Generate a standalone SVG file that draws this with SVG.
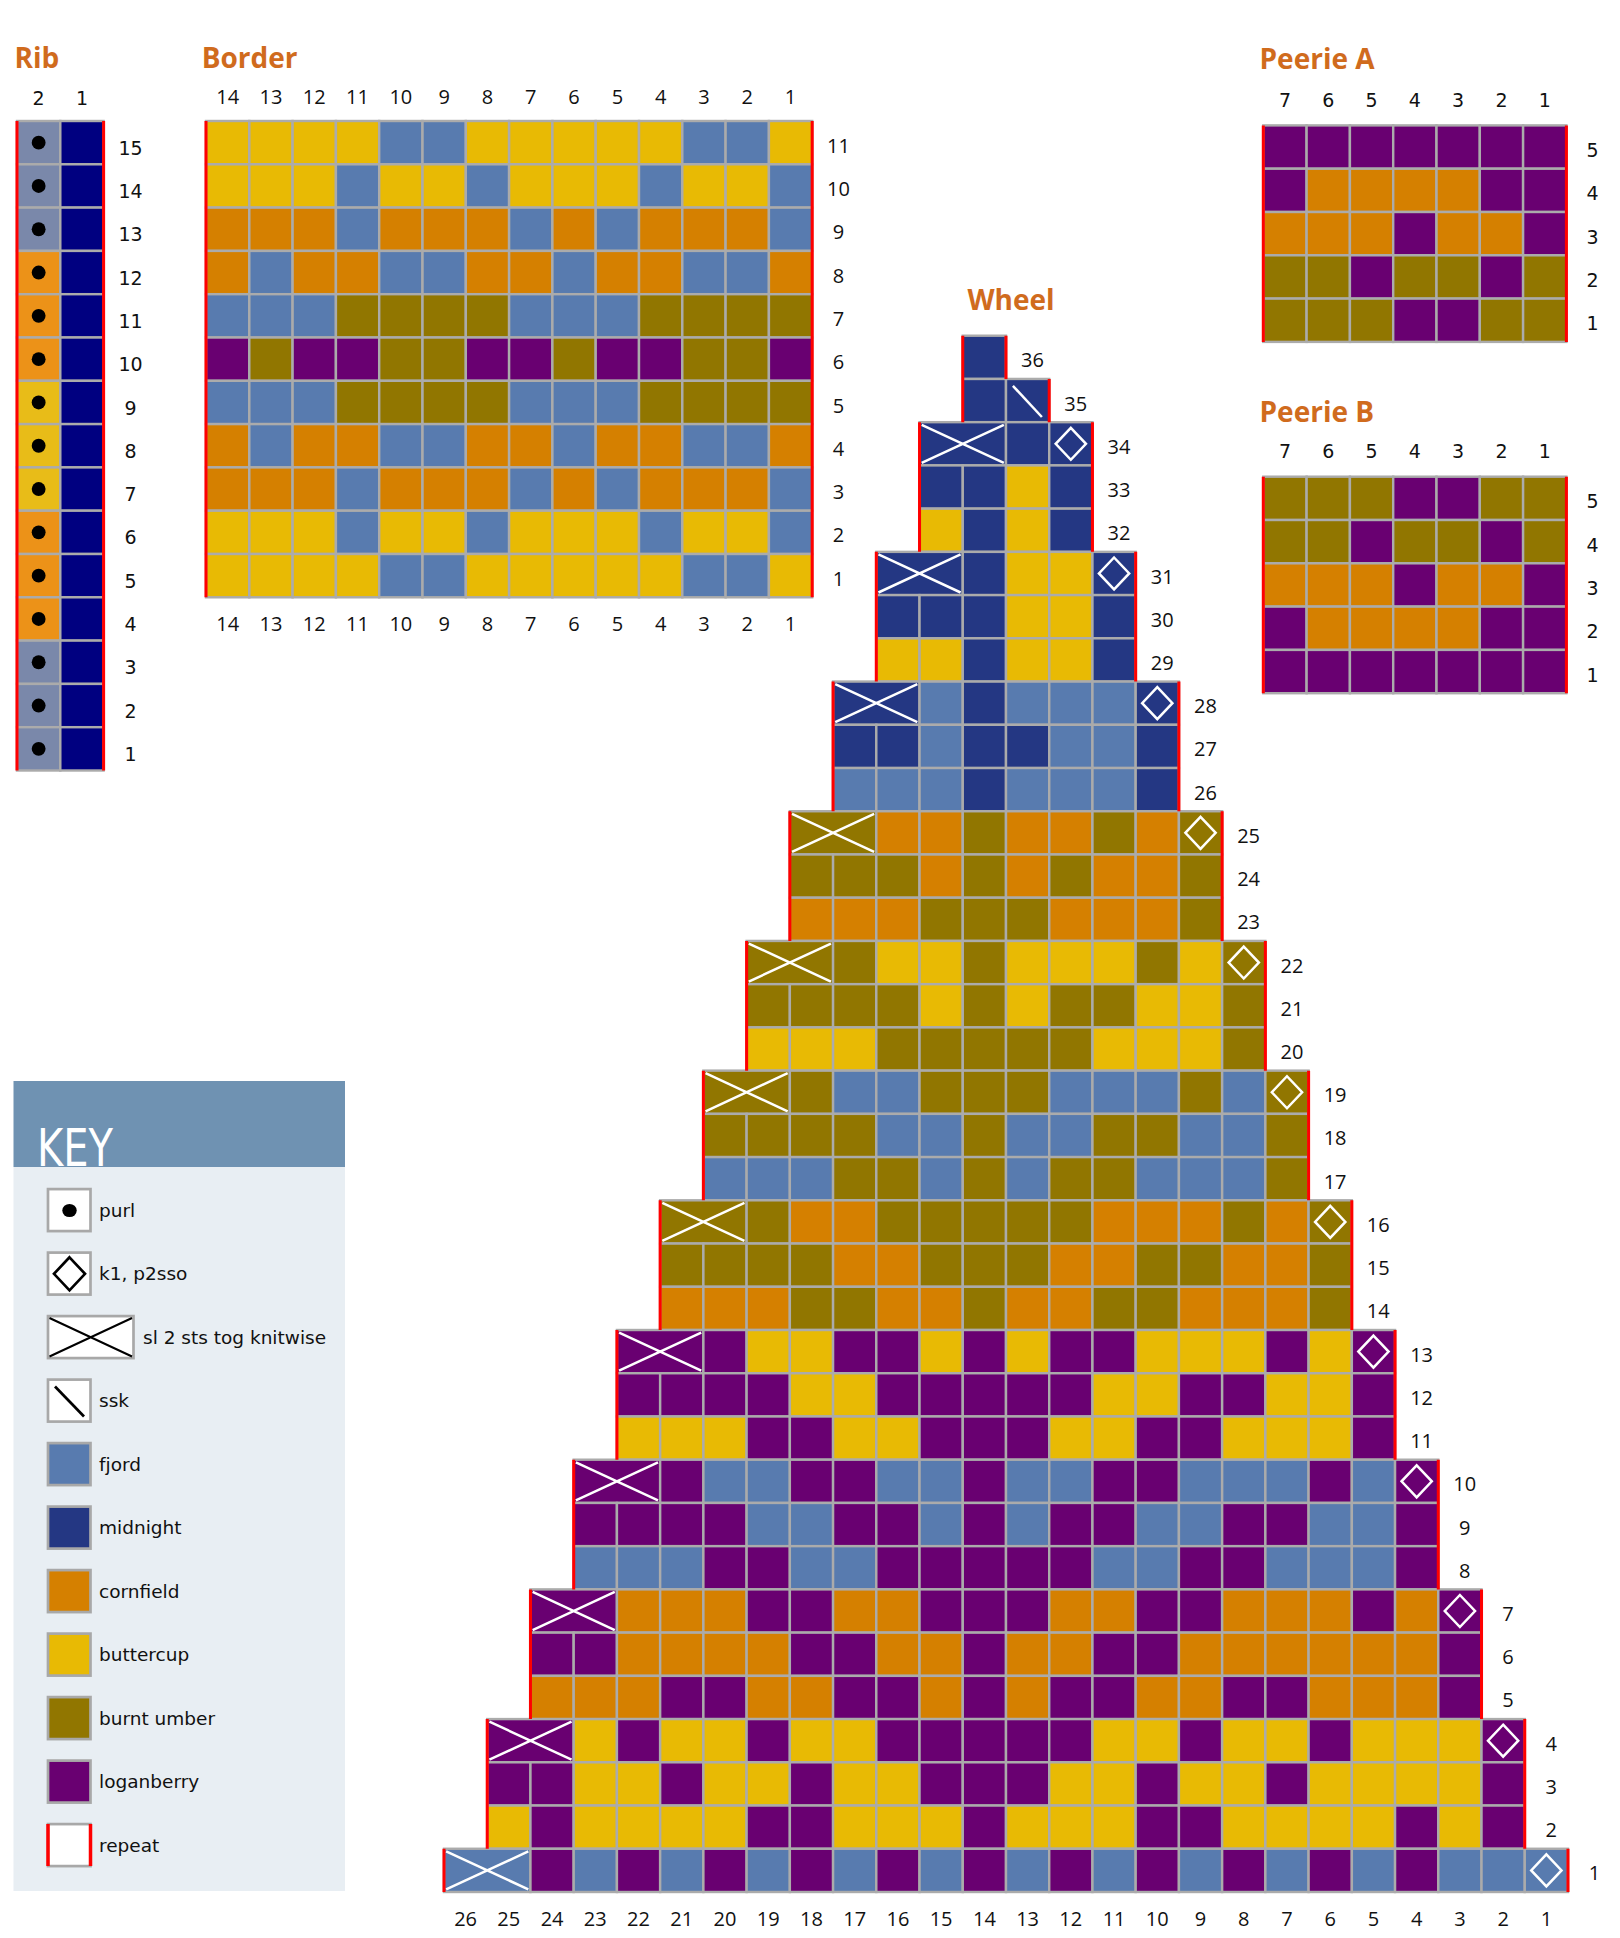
<svg xmlns="http://www.w3.org/2000/svg" width="1620" height="1938" viewBox="0 0 1620 1938">
<style>
.t{font-family:"Open Sans","DejaVu Sans",sans-serif;font-weight:700;font-size:28px;fill:#D06B1D}
.n{font-family:"DejaVu Sans",sans-serif;font-size:19px;fill:#111;text-anchor:middle}
.o{font-family:"Open Sans","DejaVu Sans",sans-serif;font-size:20px;fill:#111;text-anchor:middle}
.k{font-family:"DejaVu Sans",sans-serif;font-size:18.5px;fill:#111}
.g rect{width:1px;height:1px;stroke:#ABABAB;stroke-width:.056}
.g rect.d{width:2px}
.F{fill:#587BAF}.M{fill:#243783}.C{fill:#D58000}.Y{fill:#E8BA04}.U{fill:#917600}.L{fill:#690071}
.G{fill:#7A88AA}.O{fill:#EC9218}.R{fill:#E8BC18}.N{fill:#000080}
.rp{stroke:#FF0000;stroke-width:.07;fill:none}
.s{stroke:#FFFFFF;stroke-width:.058;fill:none}
.kb{stroke:#A8A8A8;stroke-width:2.7}
</style>

<g id="rib">
<text class="t" x="14.5" y="68">Rib</text>
<text class="n" x="38.65" y="105">2</text><text class="n" x="81.95" y="105">1</text>
<g class="g" transform="translate(17 121) scale(43.3)">
<rect class="G" x="0" y="0"/><rect class="G" x="0" y="1"/><rect class="G" x="0" y="2"/>
<rect class="O" x="0" y="3"/><rect class="O" x="0" y="4"/><rect class="O" x="0" y="5"/>
<rect class="R" x="0" y="6"/><rect class="R" x="0" y="7"/><rect class="R" x="0" y="8"/>
<rect class="O" x="0" y="9"/><rect class="O" x="0" y="10"/><rect class="O" x="0" y="11"/>
<rect class="G" x="0" y="12"/><rect class="G" x="0" y="13"/><rect class="G" x="0" y="14"/>
<rect class="N" x="1" y="0"/><rect class="N" x="1" y="1"/><rect class="N" x="1" y="2"/><rect class="N" x="1" y="3"/><rect class="N" x="1" y="4"/><rect class="N" x="1" y="5"/><rect class="N" x="1" y="6"/><rect class="N" x="1" y="7"/><rect class="N" x="1" y="8"/><rect class="N" x="1" y="9"/><rect class="N" x="1" y="10"/><rect class="N" x="1" y="11"/><rect class="N" x="1" y="12"/><rect class="N" x="1" y="13"/><rect class="N" x="1" y="14"/>
<g fill="#000">
<circle cx=".5" cy=".5" r=".16"/><circle cx=".5" cy="1.5" r=".16"/><circle cx=".5" cy="2.5" r=".16"/><circle cx=".5" cy="3.5" r=".16"/><circle cx=".5" cy="4.5" r=".16"/><circle cx=".5" cy="5.5" r=".16"/><circle cx=".5" cy="6.5" r=".16"/><circle cx=".5" cy="7.5" r=".16"/><circle cx=".5" cy="8.5" r=".16"/><circle cx=".5" cy="9.5" r=".16"/><circle cx=".5" cy="10.5" r=".16"/><circle cx=".5" cy="11.5" r=".16"/><circle cx=".5" cy="12.5" r=".16"/><circle cx=".5" cy="13.5" r=".16"/><circle cx=".5" cy="14.5" r=".16"/>
</g>
<path class="rp" d="M0 0V15M2 0V15"/>
</g>
<text class="n" x="130.5" y="154.7">15</text><text class="n" x="130.5" y="198">14</text><text class="n" x="130.5" y="241.3">13</text><text class="n" x="130.5" y="284.6">12</text><text class="n" x="130.5" y="327.9">11</text><text class="n" x="130.5" y="371.2">10</text><text class="n" x="130.5" y="414.5">9</text><text class="n" x="130.5" y="457.8">8</text><text class="n" x="130.5" y="501.1">7</text><text class="n" x="130.5" y="544.4">6</text><text class="n" x="130.5" y="587.7">5</text><text class="n" x="130.5" y="631">4</text><text class="n" x="130.5" y="674.3">3</text><text class="n" x="130.5" y="717.6">2</text><text class="n" x="130.5" y="760.9">1</text>
</g>

<g id="border">
<text class="t" x="201.7" y="68">Border</text>
<g class="o">
<text x="227.65" y="104">14</text><text x="270.95" y="104">13</text><text x="314.25" y="104">12</text><text x="357.55" y="104">11</text><text x="400.85" y="104">10</text><text x="444.15" y="104">9</text><text x="487.45" y="104">8</text><text x="530.75" y="104">7</text><text x="574.05" y="104">6</text><text x="617.35" y="104">5</text><text x="660.65" y="104">4</text><text x="703.95" y="104">3</text><text x="747.25" y="104">2</text><text x="790.55" y="104">1</text>
<text x="227.65" y="631">14</text><text x="270.95" y="631">13</text><text x="314.25" y="631">12</text><text x="357.55" y="631">11</text><text x="400.85" y="631">10</text><text x="444.15" y="631">9</text><text x="487.45" y="631">8</text><text x="530.75" y="631">7</text><text x="574.05" y="631">6</text><text x="617.35" y="631">5</text><text x="660.65" y="631">4</text><text x="703.95" y="631">3</text><text x="747.25" y="631">2</text><text x="790.55" y="631">1</text>
<text x="838.5" y="152.7">11</text><text x="838.5" y="196">10</text><text x="838.5" y="239.3">9</text><text x="838.5" y="282.6">8</text><text x="838.5" y="325.9">7</text><text x="838.5" y="369.2">6</text><text x="838.5" y="412.5">5</text><text x="838.5" y="455.8">4</text><text x="838.5" y="499.1">3</text><text x="838.5" y="542.4">2</text><text x="838.5" y="585.7">1</text>
</g>
<g class="g" transform="translate(206 121) scale(43.3)">
<rect class="Y" x="0" y="0"/><rect class="Y" x="1" y="0"/><rect class="Y" x="2" y="0"/><rect class="Y" x="3" y="0"/><rect class="F" x="4" y="0"/><rect class="F" x="5" y="0"/><rect class="Y" x="6" y="0"/><rect class="Y" x="7" y="0"/><rect class="Y" x="8" y="0"/><rect class="Y" x="9" y="0"/><rect class="Y" x="10" y="0"/><rect class="F" x="11" y="0"/><rect class="F" x="12" y="0"/><rect class="Y" x="13" y="0"/>
<rect class="Y" x="0" y="1"/><rect class="Y" x="1" y="1"/><rect class="Y" x="2" y="1"/><rect class="F" x="3" y="1"/><rect class="Y" x="4" y="1"/><rect class="Y" x="5" y="1"/><rect class="F" x="6" y="1"/><rect class="Y" x="7" y="1"/><rect class="Y" x="8" y="1"/><rect class="Y" x="9" y="1"/><rect class="F" x="10" y="1"/><rect class="Y" x="11" y="1"/><rect class="Y" x="12" y="1"/><rect class="F" x="13" y="1"/>
<rect class="C" x="0" y="2"/><rect class="C" x="1" y="2"/><rect class="C" x="2" y="2"/><rect class="F" x="3" y="2"/><rect class="C" x="4" y="2"/><rect class="C" x="5" y="2"/><rect class="C" x="6" y="2"/><rect class="F" x="7" y="2"/><rect class="C" x="8" y="2"/><rect class="F" x="9" y="2"/><rect class="C" x="10" y="2"/><rect class="C" x="11" y="2"/><rect class="C" x="12" y="2"/><rect class="F" x="13" y="2"/>
<rect class="C" x="0" y="3"/><rect class="F" x="1" y="3"/><rect class="C" x="2" y="3"/><rect class="C" x="3" y="3"/><rect class="F" x="4" y="3"/><rect class="F" x="5" y="3"/><rect class="C" x="6" y="3"/><rect class="C" x="7" y="3"/><rect class="F" x="8" y="3"/><rect class="C" x="9" y="3"/><rect class="C" x="10" y="3"/><rect class="F" x="11" y="3"/><rect class="F" x="12" y="3"/><rect class="C" x="13" y="3"/>
<rect class="F" x="0" y="4"/><rect class="F" x="1" y="4"/><rect class="F" x="2" y="4"/><rect class="U" x="3" y="4"/><rect class="U" x="4" y="4"/><rect class="U" x="5" y="4"/><rect class="U" x="6" y="4"/><rect class="F" x="7" y="4"/><rect class="F" x="8" y="4"/><rect class="F" x="9" y="4"/><rect class="U" x="10" y="4"/><rect class="U" x="11" y="4"/><rect class="U" x="12" y="4"/><rect class="U" x="13" y="4"/>
<rect class="L" x="0" y="5"/><rect class="U" x="1" y="5"/><rect class="L" x="2" y="5"/><rect class="L" x="3" y="5"/><rect class="U" x="4" y="5"/><rect class="U" x="5" y="5"/><rect class="L" x="6" y="5"/><rect class="L" x="7" y="5"/><rect class="U" x="8" y="5"/><rect class="L" x="9" y="5"/><rect class="L" x="10" y="5"/><rect class="U" x="11" y="5"/><rect class="U" x="12" y="5"/><rect class="L" x="13" y="5"/>
<rect class="F" x="0" y="6"/><rect class="F" x="1" y="6"/><rect class="F" x="2" y="6"/><rect class="U" x="3" y="6"/><rect class="U" x="4" y="6"/><rect class="U" x="5" y="6"/><rect class="U" x="6" y="6"/><rect class="F" x="7" y="6"/><rect class="F" x="8" y="6"/><rect class="F" x="9" y="6"/><rect class="U" x="10" y="6"/><rect class="U" x="11" y="6"/><rect class="U" x="12" y="6"/><rect class="U" x="13" y="6"/>
<rect class="C" x="0" y="7"/><rect class="F" x="1" y="7"/><rect class="C" x="2" y="7"/><rect class="C" x="3" y="7"/><rect class="F" x="4" y="7"/><rect class="F" x="5" y="7"/><rect class="C" x="6" y="7"/><rect class="C" x="7" y="7"/><rect class="F" x="8" y="7"/><rect class="C" x="9" y="7"/><rect class="C" x="10" y="7"/><rect class="F" x="11" y="7"/><rect class="F" x="12" y="7"/><rect class="C" x="13" y="7"/>
<rect class="C" x="0" y="8"/><rect class="C" x="1" y="8"/><rect class="C" x="2" y="8"/><rect class="F" x="3" y="8"/><rect class="C" x="4" y="8"/><rect class="C" x="5" y="8"/><rect class="C" x="6" y="8"/><rect class="F" x="7" y="8"/><rect class="C" x="8" y="8"/><rect class="F" x="9" y="8"/><rect class="C" x="10" y="8"/><rect class="C" x="11" y="8"/><rect class="C" x="12" y="8"/><rect class="F" x="13" y="8"/>
<rect class="Y" x="0" y="9"/><rect class="Y" x="1" y="9"/><rect class="Y" x="2" y="9"/><rect class="F" x="3" y="9"/><rect class="Y" x="4" y="9"/><rect class="Y" x="5" y="9"/><rect class="F" x="6" y="9"/><rect class="Y" x="7" y="9"/><rect class="Y" x="8" y="9"/><rect class="Y" x="9" y="9"/><rect class="F" x="10" y="9"/><rect class="Y" x="11" y="9"/><rect class="Y" x="12" y="9"/><rect class="F" x="13" y="9"/>
<rect class="Y" x="0" y="10"/><rect class="Y" x="1" y="10"/><rect class="Y" x="2" y="10"/><rect class="Y" x="3" y="10"/><rect class="F" x="4" y="10"/><rect class="F" x="5" y="10"/><rect class="Y" x="6" y="10"/><rect class="Y" x="7" y="10"/><rect class="Y" x="8" y="10"/><rect class="Y" x="9" y="10"/><rect class="Y" x="10" y="10"/><rect class="F" x="11" y="10"/><rect class="F" x="12" y="10"/><rect class="Y" x="13" y="10"/>
<path class="rp" d="M0 0V11M14 0V11"/>
</g>
</g>

<g id="peerieA">
<text class="t" x="1259.5" y="69">Peerie A</text>
<g class="n">
<text x="1284.95" y="107">7</text><text x="1328.25" y="107">6</text><text x="1371.55" y="107">5</text><text x="1414.85" y="107">4</text><text x="1458.15" y="107">3</text><text x="1501.45" y="107">2</text><text x="1544.75" y="107">1</text>
<text x="1592.5" y="157.1">5</text><text x="1592.5" y="200.4">4</text><text x="1592.5" y="243.7">3</text><text x="1592.5" y="287">2</text><text x="1592.5" y="330.3">1</text>
</g>
<g class="g" transform="translate(1263.3 125.4) scale(43.3)">
<rect class="L" x="0" y="0"/><rect class="L" x="1" y="0"/><rect class="L" x="2" y="0"/><rect class="L" x="3" y="0"/><rect class="L" x="4" y="0"/><rect class="L" x="5" y="0"/><rect class="L" x="6" y="0"/>
<rect class="L" x="0" y="1"/><rect class="C" x="1" y="1"/><rect class="C" x="2" y="1"/><rect class="C" x="3" y="1"/><rect class="C" x="4" y="1"/><rect class="L" x="5" y="1"/><rect class="L" x="6" y="1"/>
<rect class="C" x="0" y="2"/><rect class="C" x="1" y="2"/><rect class="C" x="2" y="2"/><rect class="L" x="3" y="2"/><rect class="C" x="4" y="2"/><rect class="C" x="5" y="2"/><rect class="L" x="6" y="2"/>
<rect class="U" x="0" y="3"/><rect class="U" x="1" y="3"/><rect class="L" x="2" y="3"/><rect class="U" x="3" y="3"/><rect class="U" x="4" y="3"/><rect class="L" x="5" y="3"/><rect class="U" x="6" y="3"/>
<rect class="U" x="0" y="4"/><rect class="U" x="1" y="4"/><rect class="U" x="2" y="4"/><rect class="L" x="3" y="4"/><rect class="L" x="4" y="4"/><rect class="U" x="5" y="4"/><rect class="U" x="6" y="4"/>
<path class="rp" d="M0 0V5M7 0V5"/>
</g>
</g>

<g id="peerieB">
<text class="t" x="1259.5" y="422">Peerie B</text>
<g class="n">
<text x="1284.95" y="458">7</text><text x="1328.25" y="458">6</text><text x="1371.55" y="458">5</text><text x="1414.85" y="458">4</text><text x="1458.15" y="458">3</text><text x="1501.45" y="458">2</text><text x="1544.75" y="458">1</text>
<text x="1592.5" y="508.4">5</text><text x="1592.5" y="551.7">4</text><text x="1592.5" y="595">3</text><text x="1592.5" y="638.3">2</text><text x="1592.5" y="681.6">1</text>
</g>
<g class="g" transform="translate(1263.3 476.7) scale(43.3)">
<rect class="U" x="0" y="0"/><rect class="U" x="1" y="0"/><rect class="U" x="2" y="0"/><rect class="L" x="3" y="0"/><rect class="L" x="4" y="0"/><rect class="U" x="5" y="0"/><rect class="U" x="6" y="0"/>
<rect class="U" x="0" y="1"/><rect class="U" x="1" y="1"/><rect class="L" x="2" y="1"/><rect class="U" x="3" y="1"/><rect class="U" x="4" y="1"/><rect class="L" x="5" y="1"/><rect class="U" x="6" y="1"/>
<rect class="C" x="0" y="2"/><rect class="C" x="1" y="2"/><rect class="C" x="2" y="2"/><rect class="L" x="3" y="2"/><rect class="C" x="4" y="2"/><rect class="C" x="5" y="2"/><rect class="L" x="6" y="2"/>
<rect class="L" x="0" y="3"/><rect class="C" x="1" y="3"/><rect class="C" x="2" y="3"/><rect class="C" x="3" y="3"/><rect class="C" x="4" y="3"/><rect class="L" x="5" y="3"/><rect class="L" x="6" y="3"/>
<rect class="L" x="0" y="4"/><rect class="L" x="1" y="4"/><rect class="L" x="2" y="4"/><rect class="L" x="3" y="4"/><rect class="L" x="4" y="4"/><rect class="L" x="5" y="4"/><rect class="L" x="6" y="4"/>
<path class="rp" d="M0 0V5M7 0V5"/>
</g>
</g>

<g id="wheel">
<text class="t" x="967.5" y="310">Wheel</text>
<g class="g" transform="translate(444 335.72) scale(43.23)">
<rect class="M" x="12" y="0"/>
<rect class="M" x="12" y="1"/><rect class="M" x="13" y="1"/>
<rect class="M d" x="11" y="2"/><rect class="M" x="13" y="2"/><rect class="M" x="14" y="2"/>
<rect class="M" x="11" y="3"/><rect class="M" x="12" y="3"/><rect class="Y" x="13" y="3"/><rect class="M" x="14" y="3"/>
<rect class="Y" x="11" y="4"/><rect class="M" x="12" y="4"/><rect class="Y" x="13" y="4"/><rect class="M" x="14" y="4"/>
<rect class="M d" x="10" y="5"/><rect class="M" x="12" y="5"/><rect class="Y" x="13" y="5"/><rect class="Y" x="14" y="5"/><rect class="M" x="15" y="5"/>
<rect class="M" x="10" y="6"/><rect class="M" x="11" y="6"/><rect class="M" x="12" y="6"/><rect class="Y" x="13" y="6"/><rect class="Y" x="14" y="6"/><rect class="M" x="15" y="6"/>
<rect class="Y" x="10" y="7"/><rect class="Y" x="11" y="7"/><rect class="M" x="12" y="7"/><rect class="Y" x="13" y="7"/><rect class="Y" x="14" y="7"/><rect class="M" x="15" y="7"/>
<rect class="M d" x="9" y="8"/><rect class="F" x="11" y="8"/><rect class="M" x="12" y="8"/><rect class="F" x="13" y="8"/><rect class="F" x="14" y="8"/><rect class="F" x="15" y="8"/><rect class="M" x="16" y="8"/>
<rect class="M" x="9" y="9"/><rect class="M" x="10" y="9"/><rect class="F" x="11" y="9"/><rect class="M" x="12" y="9"/><rect class="M" x="13" y="9"/><rect class="F" x="14" y="9"/><rect class="F" x="15" y="9"/><rect class="M" x="16" y="9"/>
<rect class="F" x="9" y="10"/><rect class="F" x="10" y="10"/><rect class="F" x="11" y="10"/><rect class="M" x="12" y="10"/><rect class="F" x="13" y="10"/><rect class="F" x="14" y="10"/><rect class="F" x="15" y="10"/><rect class="M" x="16" y="10"/>
<rect class="U d" x="8" y="11"/><rect class="C" x="10" y="11"/><rect class="C" x="11" y="11"/><rect class="U" x="12" y="11"/><rect class="C" x="13" y="11"/><rect class="C" x="14" y="11"/><rect class="U" x="15" y="11"/><rect class="C" x="16" y="11"/><rect class="U" x="17" y="11"/>
<rect class="U" x="8" y="12"/><rect class="U" x="9" y="12"/><rect class="U" x="10" y="12"/><rect class="C" x="11" y="12"/><rect class="U" x="12" y="12"/><rect class="C" x="13" y="12"/><rect class="U" x="14" y="12"/><rect class="C" x="15" y="12"/><rect class="C" x="16" y="12"/><rect class="U" x="17" y="12"/>
<rect class="C" x="8" y="13"/><rect class="C" x="9" y="13"/><rect class="C" x="10" y="13"/><rect class="U" x="11" y="13"/><rect class="U" x="12" y="13"/><rect class="U" x="13" y="13"/><rect class="C" x="14" y="13"/><rect class="C" x="15" y="13"/><rect class="C" x="16" y="13"/><rect class="U" x="17" y="13"/>
<rect class="U d" x="7" y="14"/><rect class="U" x="9" y="14"/><rect class="Y" x="10" y="14"/><rect class="Y" x="11" y="14"/><rect class="U" x="12" y="14"/><rect class="Y" x="13" y="14"/><rect class="Y" x="14" y="14"/><rect class="Y" x="15" y="14"/><rect class="U" x="16" y="14"/><rect class="Y" x="17" y="14"/><rect class="U" x="18" y="14"/>
<rect class="U" x="7" y="15"/><rect class="U" x="8" y="15"/><rect class="U" x="9" y="15"/><rect class="U" x="10" y="15"/><rect class="Y" x="11" y="15"/><rect class="U" x="12" y="15"/><rect class="Y" x="13" y="15"/><rect class="U" x="14" y="15"/><rect class="U" x="15" y="15"/><rect class="Y" x="16" y="15"/><rect class="Y" x="17" y="15"/><rect class="U" x="18" y="15"/>
<rect class="Y" x="7" y="16"/><rect class="Y" x="8" y="16"/><rect class="Y" x="9" y="16"/><rect class="U" x="10" y="16"/><rect class="U" x="11" y="16"/><rect class="U" x="12" y="16"/><rect class="U" x="13" y="16"/><rect class="U" x="14" y="16"/><rect class="Y" x="15" y="16"/><rect class="Y" x="16" y="16"/><rect class="Y" x="17" y="16"/><rect class="U" x="18" y="16"/>
<rect class="U d" x="6" y="17"/><rect class="U" x="8" y="17"/><rect class="F" x="9" y="17"/><rect class="F" x="10" y="17"/><rect class="U" x="11" y="17"/><rect class="U" x="12" y="17"/><rect class="U" x="13" y="17"/><rect class="F" x="14" y="17"/><rect class="F" x="15" y="17"/><rect class="F" x="16" y="17"/><rect class="U" x="17" y="17"/><rect class="F" x="18" y="17"/><rect class="U" x="19" y="17"/>
<rect class="U" x="6" y="18"/><rect class="U" x="7" y="18"/><rect class="U" x="8" y="18"/><rect class="U" x="9" y="18"/><rect class="F" x="10" y="18"/><rect class="F" x="11" y="18"/><rect class="U" x="12" y="18"/><rect class="F" x="13" y="18"/><rect class="F" x="14" y="18"/><rect class="U" x="15" y="18"/><rect class="U" x="16" y="18"/><rect class="F" x="17" y="18"/><rect class="F" x="18" y="18"/><rect class="U" x="19" y="18"/>
<rect class="F" x="6" y="19"/><rect class="F" x="7" y="19"/><rect class="F" x="8" y="19"/><rect class="U" x="9" y="19"/><rect class="U" x="10" y="19"/><rect class="F" x="11" y="19"/><rect class="U" x="12" y="19"/><rect class="F" x="13" y="19"/><rect class="U" x="14" y="19"/><rect class="U" x="15" y="19"/><rect class="F" x="16" y="19"/><rect class="F" x="17" y="19"/><rect class="F" x="18" y="19"/><rect class="U" x="19" y="19"/>
<rect class="U d" x="5" y="20"/><rect class="U" x="7" y="20"/><rect class="C" x="8" y="20"/><rect class="C" x="9" y="20"/><rect class="U" x="10" y="20"/><rect class="U" x="11" y="20"/><rect class="U" x="12" y="20"/><rect class="U" x="13" y="20"/><rect class="U" x="14" y="20"/><rect class="C" x="15" y="20"/><rect class="C" x="16" y="20"/><rect class="C" x="17" y="20"/><rect class="U" x="18" y="20"/><rect class="C" x="19" y="20"/><rect class="U" x="20" y="20"/>
<rect class="U" x="5" y="21"/><rect class="U" x="6" y="21"/><rect class="U" x="7" y="21"/><rect class="U" x="8" y="21"/><rect class="C" x="9" y="21"/><rect class="C" x="10" y="21"/><rect class="U" x="11" y="21"/><rect class="U" x="12" y="21"/><rect class="U" x="13" y="21"/><rect class="C" x="14" y="21"/><rect class="C" x="15" y="21"/><rect class="U" x="16" y="21"/><rect class="U" x="17" y="21"/><rect class="C" x="18" y="21"/><rect class="C" x="19" y="21"/><rect class="U" x="20" y="21"/>
<rect class="C" x="5" y="22"/><rect class="C" x="6" y="22"/><rect class="C" x="7" y="22"/><rect class="U" x="8" y="22"/><rect class="U" x="9" y="22"/><rect class="C" x="10" y="22"/><rect class="C" x="11" y="22"/><rect class="U" x="12" y="22"/><rect class="C" x="13" y="22"/><rect class="C" x="14" y="22"/><rect class="U" x="15" y="22"/><rect class="U" x="16" y="22"/><rect class="C" x="17" y="22"/><rect class="C" x="18" y="22"/><rect class="C" x="19" y="22"/><rect class="U" x="20" y="22"/>
<rect class="L d" x="4" y="23"/><rect class="L" x="6" y="23"/><rect class="Y" x="7" y="23"/><rect class="Y" x="8" y="23"/><rect class="L" x="9" y="23"/><rect class="L" x="10" y="23"/><rect class="Y" x="11" y="23"/><rect class="L" x="12" y="23"/><rect class="Y" x="13" y="23"/><rect class="L" x="14" y="23"/><rect class="L" x="15" y="23"/><rect class="Y" x="16" y="23"/><rect class="Y" x="17" y="23"/><rect class="Y" x="18" y="23"/><rect class="L" x="19" y="23"/><rect class="Y" x="20" y="23"/><rect class="L" x="21" y="23"/>
<rect class="L" x="4" y="24"/><rect class="L" x="5" y="24"/><rect class="L" x="6" y="24"/><rect class="L" x="7" y="24"/><rect class="Y" x="8" y="24"/><rect class="Y" x="9" y="24"/><rect class="L" x="10" y="24"/><rect class="L" x="11" y="24"/><rect class="L" x="12" y="24"/><rect class="L" x="13" y="24"/><rect class="L" x="14" y="24"/><rect class="Y" x="15" y="24"/><rect class="Y" x="16" y="24"/><rect class="L" x="17" y="24"/><rect class="L" x="18" y="24"/><rect class="Y" x="19" y="24"/><rect class="Y" x="20" y="24"/><rect class="L" x="21" y="24"/>
<rect class="Y" x="4" y="25"/><rect class="Y" x="5" y="25"/><rect class="Y" x="6" y="25"/><rect class="L" x="7" y="25"/><rect class="L" x="8" y="25"/><rect class="Y" x="9" y="25"/><rect class="Y" x="10" y="25"/><rect class="L" x="11" y="25"/><rect class="L" x="12" y="25"/><rect class="L" x="13" y="25"/><rect class="Y" x="14" y="25"/><rect class="Y" x="15" y="25"/><rect class="L" x="16" y="25"/><rect class="L" x="17" y="25"/><rect class="Y" x="18" y="25"/><rect class="Y" x="19" y="25"/><rect class="Y" x="20" y="25"/><rect class="L" x="21" y="25"/>
<rect class="L d" x="3" y="26"/><rect class="L" x="5" y="26"/><rect class="F" x="6" y="26"/><rect class="F" x="7" y="26"/><rect class="L" x="8" y="26"/><rect class="L" x="9" y="26"/><rect class="F" x="10" y="26"/><rect class="F" x="11" y="26"/><rect class="L" x="12" y="26"/><rect class="F" x="13" y="26"/><rect class="F" x="14" y="26"/><rect class="L" x="15" y="26"/><rect class="L" x="16" y="26"/><rect class="F" x="17" y="26"/><rect class="F" x="18" y="26"/><rect class="F" x="19" y="26"/><rect class="L" x="20" y="26"/><rect class="F" x="21" y="26"/><rect class="L" x="22" y="26"/>
<rect class="L" x="3" y="27"/><rect class="L" x="4" y="27"/><rect class="L" x="5" y="27"/><rect class="L" x="6" y="27"/><rect class="F" x="7" y="27"/><rect class="F" x="8" y="27"/><rect class="L" x="9" y="27"/><rect class="L" x="10" y="27"/><rect class="F" x="11" y="27"/><rect class="L" x="12" y="27"/><rect class="F" x="13" y="27"/><rect class="L" x="14" y="27"/><rect class="L" x="15" y="27"/><rect class="F" x="16" y="27"/><rect class="F" x="17" y="27"/><rect class="L" x="18" y="27"/><rect class="L" x="19" y="27"/><rect class="F" x="20" y="27"/><rect class="F" x="21" y="27"/><rect class="L" x="22" y="27"/>
<rect class="F" x="3" y="28"/><rect class="F" x="4" y="28"/><rect class="F" x="5" y="28"/><rect class="L" x="6" y="28"/><rect class="L" x="7" y="28"/><rect class="F" x="8" y="28"/><rect class="F" x="9" y="28"/><rect class="L" x="10" y="28"/><rect class="L" x="11" y="28"/><rect class="L" x="12" y="28"/><rect class="L" x="13" y="28"/><rect class="L" x="14" y="28"/><rect class="F" x="15" y="28"/><rect class="F" x="16" y="28"/><rect class="L" x="17" y="28"/><rect class="L" x="18" y="28"/><rect class="F" x="19" y="28"/><rect class="F" x="20" y="28"/><rect class="F" x="21" y="28"/><rect class="L" x="22" y="28"/>
<rect class="L d" x="2" y="29"/><rect class="C" x="4" y="29"/><rect class="C" x="5" y="29"/><rect class="C" x="6" y="29"/><rect class="L" x="7" y="29"/><rect class="L" x="8" y="29"/><rect class="C" x="9" y="29"/><rect class="C" x="10" y="29"/><rect class="L" x="11" y="29"/><rect class="L" x="12" y="29"/><rect class="L" x="13" y="29"/><rect class="C" x="14" y="29"/><rect class="C" x="15" y="29"/><rect class="L" x="16" y="29"/><rect class="L" x="17" y="29"/><rect class="C" x="18" y="29"/><rect class="C" x="19" y="29"/><rect class="C" x="20" y="29"/><rect class="L" x="21" y="29"/><rect class="C" x="22" y="29"/><rect class="L" x="23" y="29"/>
<rect class="L" x="2" y="30"/><rect class="L" x="3" y="30"/><rect class="C" x="4" y="30"/><rect class="C" x="5" y="30"/><rect class="C" x="6" y="30"/><rect class="C" x="7" y="30"/><rect class="L" x="8" y="30"/><rect class="L" x="9" y="30"/><rect class="C" x="10" y="30"/><rect class="C" x="11" y="30"/><rect class="L" x="12" y="30"/><rect class="C" x="13" y="30"/><rect class="C" x="14" y="30"/><rect class="L" x="15" y="30"/><rect class="L" x="16" y="30"/><rect class="C" x="17" y="30"/><rect class="C" x="18" y="30"/><rect class="C" x="19" y="30"/><rect class="C" x="20" y="30"/><rect class="C" x="21" y="30"/><rect class="C" x="22" y="30"/><rect class="L" x="23" y="30"/>
<rect class="C" x="2" y="31"/><rect class="C" x="3" y="31"/><rect class="C" x="4" y="31"/><rect class="L" x="5" y="31"/><rect class="L" x="6" y="31"/><rect class="C" x="7" y="31"/><rect class="C" x="8" y="31"/><rect class="L" x="9" y="31"/><rect class="L" x="10" y="31"/><rect class="C" x="11" y="31"/><rect class="L" x="12" y="31"/><rect class="C" x="13" y="31"/><rect class="L" x="14" y="31"/><rect class="L" x="15" y="31"/><rect class="C" x="16" y="31"/><rect class="C" x="17" y="31"/><rect class="L" x="18" y="31"/><rect class="L" x="19" y="31"/><rect class="C" x="20" y="31"/><rect class="C" x="21" y="31"/><rect class="C" x="22" y="31"/><rect class="L" x="23" y="31"/>
<rect class="L d" x="1" y="32"/><rect class="Y" x="3" y="32"/><rect class="L" x="4" y="32"/><rect class="Y" x="5" y="32"/><rect class="Y" x="6" y="32"/><rect class="L" x="7" y="32"/><rect class="Y" x="8" y="32"/><rect class="Y" x="9" y="32"/><rect class="L" x="10" y="32"/><rect class="L" x="11" y="32"/><rect class="L" x="12" y="32"/><rect class="L" x="13" y="32"/><rect class="L" x="14" y="32"/><rect class="Y" x="15" y="32"/><rect class="Y" x="16" y="32"/><rect class="L" x="17" y="32"/><rect class="Y" x="18" y="32"/><rect class="Y" x="19" y="32"/><rect class="L" x="20" y="32"/><rect class="Y" x="21" y="32"/><rect class="Y" x="22" y="32"/><rect class="Y" x="23" y="32"/><rect class="L" x="24" y="32"/>
<rect class="L" x="1" y="33"/><rect class="L" x="2" y="33"/><rect class="Y" x="3" y="33"/><rect class="Y" x="4" y="33"/><rect class="L" x="5" y="33"/><rect class="Y" x="6" y="33"/><rect class="Y" x="7" y="33"/><rect class="L" x="8" y="33"/><rect class="Y" x="9" y="33"/><rect class="Y" x="10" y="33"/><rect class="L" x="11" y="33"/><rect class="L" x="12" y="33"/><rect class="L" x="13" y="33"/><rect class="Y" x="14" y="33"/><rect class="Y" x="15" y="33"/><rect class="L" x="16" y="33"/><rect class="Y" x="17" y="33"/><rect class="Y" x="18" y="33"/><rect class="L" x="19" y="33"/><rect class="Y" x="20" y="33"/><rect class="Y" x="21" y="33"/><rect class="Y" x="22" y="33"/><rect class="Y" x="23" y="33"/><rect class="L" x="24" y="33"/>
<rect class="Y" x="1" y="34"/><rect class="L" x="2" y="34"/><rect class="Y" x="3" y="34"/><rect class="Y" x="4" y="34"/><rect class="Y" x="5" y="34"/><rect class="Y" x="6" y="34"/><rect class="L" x="7" y="34"/><rect class="L" x="8" y="34"/><rect class="Y" x="9" y="34"/><rect class="Y" x="10" y="34"/><rect class="Y" x="11" y="34"/><rect class="L" x="12" y="34"/><rect class="Y" x="13" y="34"/><rect class="Y" x="14" y="34"/><rect class="Y" x="15" y="34"/><rect class="L" x="16" y="34"/><rect class="L" x="17" y="34"/><rect class="Y" x="18" y="34"/><rect class="Y" x="19" y="34"/><rect class="Y" x="20" y="34"/><rect class="Y" x="21" y="34"/><rect class="L" x="22" y="34"/><rect class="Y" x="23" y="34"/><rect class="L" x="24" y="34"/>
<rect class="F d" x="0" y="35"/><rect class="L" x="2" y="35"/><rect class="F" x="3" y="35"/><rect class="L" x="4" y="35"/><rect class="F" x="5" y="35"/><rect class="L" x="6" y="35"/><rect class="F" x="7" y="35"/><rect class="L" x="8" y="35"/><rect class="F" x="9" y="35"/><rect class="L" x="10" y="35"/><rect class="F" x="11" y="35"/><rect class="L" x="12" y="35"/><rect class="F" x="13" y="35"/><rect class="L" x="14" y="35"/><rect class="F" x="15" y="35"/><rect class="L" x="16" y="35"/><rect class="F" x="17" y="35"/><rect class="L" x="18" y="35"/><rect class="F" x="19" y="35"/><rect class="L" x="20" y="35"/><rect class="F" x="21" y="35"/><rect class="L" x="22" y="35"/><rect class="F" x="23" y="35"/><rect class="F" x="24" y="35"/><rect class="F" x="25" y="35"/>
</g>
<g transform="translate(444 335.72) scale(43.23)">
<path class="rp" d="M12 0V2M13 0V1M14 1V2M11 2V5M15 2V5M10 5V8M16 5V8M9 8V11M17 8V11M8 11V14M18 11V14M7 14V17M19 14V17M6 17V20M20 17V20M5 20V23M21 20V23M4 23V26M22 23V26M3 26V29M23 26V29M2 29V32M24 29V32M1 32V35M25 32V35M0 35V36M26 35V36"/>
<path class="s" d="M11.05 2.06l1.9 .88m-1.9 0l1.9 -.88M10.05 5.06l1.9 .88m-1.9 0l1.9 -.88M9.05 8.06l1.9 .88m-1.9 0l1.9 -.88M8.05 11.06l1.9 .88m-1.9 0l1.9 -.88M7.05 14.06l1.9 .88m-1.9 0l1.9 -.88M6.05 17.06l1.9 .88m-1.9 0l1.9 -.88M5.05 20.06l1.9 .88m-1.9 0l1.9 -.88M4.05 23.06l1.9 .88m-1.9 0l1.9 -.88M3.05 26.06l1.9 .88m-1.9 0l1.9 -.88M2.05 29.06l1.9 .88m-1.9 0l1.9 -.88M1.05 32.06l1.9 .88m-1.9 0l1.9 -.88M.05 35.06l1.9 .88m-1.9 0l1.9 -.88"/>
<path class="s" d="M14.5 2.13l.35 .37-.35 .37-.35 -.37zM15.5 5.13l.35 .37-.35 .37-.35 -.37zM16.5 8.13l.35 .37-.35 .37-.35 -.37zM17.5 11.13l.35 .37-.35 .37-.35 -.37zM18.5 14.13l.35 .37-.35 .37-.35 -.37zM19.5 17.13l.35 .37-.35 .37-.35 -.37zM20.5 20.13l.35 .37-.35 .37-.35 -.37zM21.5 23.13l.35 .37-.35 .37-.35 -.37zM22.5 26.13l.35 .37-.35 .37-.35 -.37zM23.5 29.13l.35 .37-.35 .37-.35 -.37zM24.5 32.13l.35 .37-.35 .37-.35 -.37zM25.5 35.13l.35 .37-.35 .37-.35 -.37z"/>
<path class="s" d="M13.16 1.16L13.83 1.88"/>
</g>
<g class="o">
<text x="1032.5" y="367.3">36</text><text x="1075.7" y="410.5">35</text>
<text x="1119" y="453.8">34</text><text x="1119" y="497">33</text><text x="1119" y="540.2">32</text>
<text x="1162.2" y="583.5">31</text><text x="1162.2" y="626.7">30</text><text x="1162.2" y="669.9">29</text>
<text x="1205.4" y="713.1">28</text><text x="1205.4" y="756.4">27</text><text x="1205.4" y="799.6">26</text>
<text x="1248.6" y="842.8">25</text><text x="1248.6" y="886.1">24</text><text x="1248.6" y="929.3">23</text>
<text x="1291.9" y="972.5">22</text><text x="1291.9" y="1015.8">21</text><text x="1291.9" y="1059">20</text>
<text x="1335.1" y="1102.2">19</text><text x="1335.1" y="1145.4">18</text><text x="1335.1" y="1188.7">17</text>
<text x="1378.3" y="1231.9">16</text><text x="1378.3" y="1275.1">15</text><text x="1378.3" y="1318.4">14</text>
<text x="1421.6" y="1361.6">13</text><text x="1421.6" y="1404.8">12</text><text x="1421.6" y="1448.1">11</text>
<text x="1464.8" y="1491.3">10</text><text x="1464.8" y="1534.5">9</text><text x="1464.8" y="1577.8">8</text>
<text x="1508" y="1621">7</text><text x="1508" y="1664.2">6</text><text x="1508" y="1707.4">5</text>
<text x="1551.3" y="1750.7">4</text><text x="1551.3" y="1793.9">3</text><text x="1551.3" y="1837.1">2</text>
<text x="1594.5" y="1880.4">1</text>
<text x="465.6" y="1926">26</text><text x="508.8" y="1926">25</text><text x="552.1" y="1926">24</text><text x="595.3" y="1926">23</text><text x="638.5" y="1926">22</text><text x="681.8" y="1926">21</text><text x="725" y="1926">20</text><text x="768.2" y="1926">19</text><text x="811.5" y="1926">18</text><text x="854.7" y="1926">17</text><text x="897.9" y="1926">16</text><text x="941.1" y="1926">15</text><text x="984.4" y="1926">14</text><text x="1027.6" y="1926">13</text><text x="1070.8" y="1926">12</text><text x="1114.1" y="1926">11</text><text x="1157.3" y="1926">10</text><text x="1200.5" y="1926">9</text><text x="1243.8" y="1926">8</text><text x="1287" y="1926">7</text><text x="1330.2" y="1926">6</text><text x="1373.4" y="1926">5</text><text x="1416.7" y="1926">4</text><text x="1459.9" y="1926">3</text><text x="1503.1" y="1926">2</text><text x="1546.4" y="1926">1</text>
</g>
</g>

<g id="key">
<rect x="13.5" y="1081" width="331.5" height="86" fill="#6F92B2"/>
<rect x="13.5" y="1167" width="331.5" height="724" fill="#E8EEF3"/>
<text x="37" y="1166" font-family="'DejaVu Sans', sans-serif" font-weight="400" font-size="52" fill="#FFFFFF" textLength="76" lengthAdjust="spacingAndGlyphs">KEY</text>
<g class="kb">
<rect x="48" y="1189.1" width="42.5" height="42" fill="#FFFFFF"/>
<rect x="48" y="1252.6" width="42.5" height="42" fill="#FFFFFF"/>
<rect x="48" y="1316.1" width="85.5" height="42" fill="#FFFFFF"/>
<rect x="48" y="1379.6" width="42.5" height="42" fill="#FFFFFF"/>
<rect x="48" y="1443.1" width="42.5" height="42" class="F"/>
<rect x="48" y="1506.6" width="42.5" height="42" class="M"/>
<rect x="48" y="1570.1" width="42.5" height="42" class="C"/>
<rect x="48" y="1633.6" width="42.5" height="42" class="Y"/>
<rect x="48" y="1697.1" width="42.5" height="42" class="U"/>
<rect x="48" y="1760.6" width="42.5" height="42" class="L"/>
<rect x="48" y="1824.1" width="42.5" height="42" fill="#FFFFFF"/>
</g>
<ellipse cx="69.5" cy="1210.5" rx="7.2" ry="6.6" fill="#000"/>
<path d="M69.5 1257.3l15.5 16.5-15.5 16.5-15.5-16.5z" fill="none" stroke="#000" stroke-width="2.7"/>
<path d="M49.5 1318l82.5 38.5M49.5 1356.5l82.5-38.5" stroke="#000" stroke-width="2"/>
<path d="M55 1386.5L84 1416.5" stroke="#000" stroke-width="2.7"/>
<path d="M48 1824.1v42M90.5 1824.1v42" stroke="#FF0000" stroke-width="3.5"/>
<text class="k" x="99" y="1216.6">purl</text>
<text class="k" x="99" y="1280.1">k1, p2sso</text>
<text class="k" x="143" y="1343.6">sl 2 sts tog knitwise</text>
<text class="k" x="99" y="1407.1">ssk</text>
<text class="k" x="99" y="1470.6">fjord</text>
<text class="k" x="99" y="1534.1">midnight</text>
<text class="k" x="99" y="1597.6">cornfield</text>
<text class="k" x="99" y="1661.1">buttercup</text>
<text class="k" x="99" y="1724.6">burnt umber</text>
<text class="k" x="99" y="1788.1">loganberry</text>
<text class="k" x="99" y="1851.6">repeat</text>
</g>
</svg>
